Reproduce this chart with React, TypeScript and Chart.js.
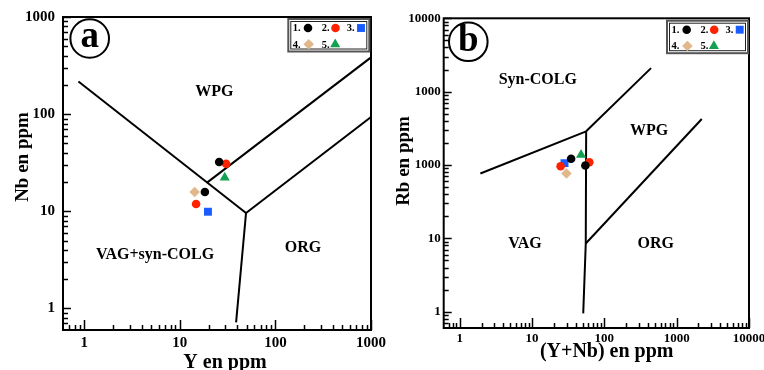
import React, { useEffect, useRef } from 'react';
import { Chart, registerables } from 'chart.js';
Chart.register(...registerables);

const FONT = "'Liberation Serif', 'Times New Roman', serif";

// Series (shared legend)
const seriesNames = ['1.', '2.', '3.', '4.', '5.'];
const seriesColors = ['#000000', '#ff2200', '#1a5cff', '#e0b88c', '#12a150'];
const seriesShapes = ['circle', 'circle', 'rect', 'rectRot', 'triangle'];
const seriesRadii = [4.3, 4.3, 5.6, 5.3, 5.8];

// Panel a : Y (ppm) vs Nb (ppm)
const aY1 = [25.8, 18.3];
const aNb1 = [32.2, 15.8];
const aY2 = [30.5, 14.8];
const aNb2 = [30.9, 11.9];
const aY3 = [19.7];
const aNb3 = [9.9];
const aY4 = [14.3];
const aNb4 = [15.8];
const aY5 = [29.5];
const aNb5 = [22.2];

const aBoundaryX = [[0.87, 49.3], [19.1, 1000], [49.3, 1000], [49.3, 38.8]];
const aBoundaryY = [[217, 9.6], [19.6, 384], [9.6, 93.5], [9.6, 0.72]];

const aXTicks = [1, 10, 100, 1000];
const aXTickLabels = ['1', '10', '100', '1000'];
const aYTicks = [1, 10, 100, 1000];
const aYTickLabels = ['1', '10', '100', '1000'];

const aFieldNames = ['WPG', 'VAG+syn-COLG', 'ORG'];
const aFieldX = [23, 5.5, 194];
const aFieldY = [168, 3.6, 4.23];

// Panel b : (Y+Nb) (ppm) vs Rb (ppm)
const bYNb1 = [34.7, 54.6];
const bRb1 = [121.6, 98.4];
const bYNb2 = [24.8, 61.9];
const bRb2 = [96.3, 109];
const bYNb3 = [28.1];
const bRb3 = [106];
const bYNb4 = [29.9];
const bRb4 = [76.5];
const bYNb5 = [47.6];
const bRb5 = [138];

const bBoundaryX = [[1.93, 56], [56, 442], [56, 55.3, 51], [55.3, 2223]];
const bBoundaryY = [[76.7, 288], [288, 2094], [288, 8.5, 0.95], [8.5, 424]];

const bXTicks = [1, 10, 100, 1000, 10000];
const bXTickLabels = ['1', '10', '100', '1000', '10000'];
const bYTicks = [1, 10, 100, 1000, 10000];
const bYTickLabels = ['1', '10', '1000', '1000', '10000'];

const bFieldNames = ['Syn-COLG', 'WPG', 'VAG', 'ORG'];
const bFieldX = [12, 415, 8, 513];
const bFieldY = [1452, 294, 8.5, 8.5];

type PanelCfg = {
  left: number; width: number;
  area: { l: number; r: number; t: number; b: number };
  xMin: number; xMax: number; yMin: number; yMax: number;
  xs: number[][]; ys: number[][];
  bx: number[][]; by: number[][];
  xTicks: number[]; xLabels: string[]; yTicks: number[]; yLabels: string[];
  tickSize: number; yPad: number; xPad: number;
  fields: string[]; fx: number[]; fy: number[];
  xTitle: string; xTitlePos: [number, number];
  yTitle: string; yTitlePos: [number, number];
  letter: string; letterC: [number, number]; letterBase: number;
  legend: [number, number];
};

function drawMarker(ctx: CanvasRenderingContext2D, shape: string, x: number, y: number, r: number, color: string) {
  ctx.save();
  ctx.fillStyle = color;
  ctx.beginPath();
  if (shape === 'circle') {
    ctx.arc(x, y, r, 0, Math.PI * 2);
  } else if (shape === 'rect') {
    const s = r * Math.SQRT1_2;
    ctx.rect(x - s, y - s, 2 * s, 2 * s);
  } else if (shape === 'rectRot') {
    ctx.moveTo(x, y - r); ctx.lineTo(x + r, y); ctx.lineTo(x, y + r); ctx.lineTo(x - r, y); ctx.closePath();
  } else {
    const h = r * 1.5;
    const w = r * Math.sqrt(3) / 2;
    ctx.moveTo(x, y - r); ctx.lineTo(x + w, y + h - r); ctx.lineTo(x - w, y + h - r); ctx.closePath();
  }
  ctx.fill();
  ctx.restore();
}

function makeDecor(cfg: PanelCfg) {
  return {
    id: 'decor' + cfg.letter,
    afterDraw(chart: any) {
      const ctx: CanvasRenderingContext2D = chart.ctx;
      const ca = chart.chartArea;
      const xs = chart.scales.x;
      const ys = chart.scales.y;
      ctx.save();
      ctx.strokeStyle = '#000';
      ctx.lineWidth = 2;
      ctx.strokeRect(ca.left, ca.top, ca.right - ca.left, ca.bottom - ca.top);
      // inward ticks
      ctx.lineWidth = 1.5;
      for (let d = -1; d <= 4; d++) {
        for (let m = 1; m <= 9; m++) {
          const v = m * Math.pow(10, d);
          if (v >= cfg.xMin && v <= cfg.xMax * 1.001) {
            const px = Math.round(xs.getPixelForValue(v)) + 0.5;
            const len = m === 1 ? 10 : 5;
            ctx.beginPath(); ctx.moveTo(px, ca.bottom); ctx.lineTo(px, ca.bottom - len); ctx.stroke();
          }
          if (v >= cfg.yMin && v <= cfg.yMax * 1.001) {
            const py = Math.round(ys.getPixelForValue(v)) + 0.5;
            const len = m === 1 ? 8 : 5;
            ctx.beginPath(); ctx.moveTo(ca.left, py); ctx.lineTo(ca.left + len, py); ctx.stroke();
          }
        }
      }
      // field labels
      ctx.fillStyle = '#000';
      ctx.font = `bold 16px ${FONT}`;
      ctx.textAlign = 'center';
      ctx.textBaseline = 'middle';
      cfg.fields.forEach((t, i) => {
        ctx.fillText(t, xs.getPixelForValue(cfg.fx[i]), ys.getPixelForValue(cfg.fy[i]));
      });
      // axis titles
      ctx.font = `bold 20px ${FONT}`;
      ctx.textBaseline = 'alphabetic';
      ctx.fillText(cfg.xTitle, cfg.xTitlePos[0], cfg.xTitlePos[1]);
      ctx.save();
      ctx.translate(cfg.yTitlePos[0], cfg.yTitlePos[1]);
      ctx.rotate(-Math.PI / 2);
      ctx.font = `bold 19px ${FONT}`;
      ctx.fillText(cfg.yTitle, 0, 0);
      ctx.restore();
      // panel letter
      ctx.lineWidth = 2;
      ctx.beginPath();
      ctx.arc(cfg.letterC[0], cfg.letterC[1], 19.3, 0, Math.PI * 2);
      ctx.stroke();
      ctx.font = `bold 37px ${FONT}`;
      ctx.fillText(cfg.letter, cfg.letterC[0], cfg.letterBase);
      // legend box
      const [lx, ly] = cfg.legend;
      const lw = 81, lh = 32.5;
      ctx.lineWidth = 2;
      ctx.strokeStyle = '#555';
      ctx.strokeRect(lx, ly, lw, lh);
      ctx.lineWidth = 1;
      ctx.strokeStyle = '#222';
      ctx.strokeRect(lx + 2.5, ly + 2.5, lw - 5, lh - 5);
      const textX = [4.4, 33.4, 58.4, 4.4, 33.4];
      const markX = [19.7, 47.2, 72.7, 20.4, 46.9];
      const rowOf = [0, 0, 0, 1, 1];
      ctx.font = `bold 10.5px ${FONT}`;
      ctx.textAlign = 'left';
      ctx.textBaseline = 'middle';
      seriesNames.forEach((n, i) => {
        const yy = ly + (rowOf[i] === 0 ? 9 : 25.3);
        ctx.fillStyle = '#000';
        ctx.fillText(n, lx + textX[i], yy + 0.5);
        drawMarker(ctx, seriesShapes[i], lx + markX[i], yy, seriesRadii[i], seriesColors[i]);
      });
      ctx.restore();
    },
  };
}

function Panel({ cfg }: { cfg: PanelCfg }) {
  const ref = useRef<HTMLCanvasElement>(null);
  useEffect(() => {
    const datasets: any[] = [];
    seriesNames.forEach((n, i) => {
      datasets.push({
        label: n,
        data: cfg.xs[i].map((x, j) => ({ x, y: cfg.ys[i][j] })),
        pointStyle: seriesShapes[i],
        pointRadius: seriesRadii[i],
        backgroundColor: seriesColors[i],
        borderColor: seriesColors[i],
        borderWidth: 0,
        showLine: false,
        order: 1,
      });
    });
    cfg.bx.forEach((line, k) => {
      datasets.push({
        label: 'b' + k,
        data: line.map((x, j) => ({ x, y: cfg.by[k][j] })),
        showLine: true,
        borderColor: '#000',
        borderWidth: 2,
        pointRadius: 0,
        fill: false,
        order: 2,
      });
    });
    const tickFont = { family: FONT, size: cfg.tickSize, weight: 'bold' as const };
    const chart = new Chart(ref.current!, {
      type: 'scatter',
      data: { datasets },
      options: {
        animation: false,
        responsive: false,
        devicePixelRatio: 1,
        layout: { padding: { left: 0, top: cfg.area.t, right: cfg.width - cfg.area.r, bottom: 0 } },
        plugins: { legend: { display: false }, tooltip: { enabled: false } },
        scales: {
          x: {
            type: 'logarithmic',
            min: cfg.xMin,
            max: cfg.xMax,
            afterBuildTicks: (s: any) => { s.ticks = cfg.xTicks.map((v) => ({ value: v })); },
            afterFit: (s: any) => { s.height = 370 - cfg.area.b; },
            ticks: {
              callback: (_v: any, i: number) => cfg.xLabels[i],
              font: tickFont, color: '#000', padding: cfg.xPad, autoSkip: false, maxRotation: 0,
            },
            grid: { display: false, drawTicks: false },
            border: { display: false },
          },
          y: {
            type: 'logarithmic',
            min: cfg.yMin,
            max: cfg.yMax,
            afterBuildTicks: (s: any) => { s.ticks = cfg.yTicks.map((v) => ({ value: v })); },
            afterFit: (s: any) => { s.width = cfg.area.l; },
            ticks: {
              callback: (_v: any, i: number) => cfg.yLabels[i],
              font: tickFont, color: '#000', padding: cfg.yPad, autoSkip: false,
            },
            grid: { display: false, drawTicks: false },
            border: { display: false },
          },
        },
      },
      plugins: [makeDecor(cfg)],
    });
    return () => chart.destroy();
  }, []);
  return (
    <canvas
      ref={ref}
      width={cfg.width}
      height={370}
      style={{ position: 'absolute', left: cfg.left, top: 0, width: cfg.width, height: 370 }}
    />
  );
}

const panelA: PanelCfg = {
  left: 0, width: 400,
  area: { l: 63, r: 371, t: 16, b: 330 },
  xMin: 0.624, xMax: 1000, yMin: 0.618, yMax: 1000,
  xs: [aY1, aY2, aY3, aY4, aY5], ys: [aNb1, aNb2, aNb3, aNb4, aNb5],
  bx: aBoundaryX, by: aBoundaryY,
  xTicks: aXTicks, xLabels: aXTickLabels, yTicks: aYTicks, yLabels: aYTickLabels,
  tickSize: 15, yPad: 8, xPad: 4,
  fields: aFieldNames, fx: aFieldX, fy: aFieldY,
  xTitle: 'Y en ppm', xTitlePos: [225, 368],
  yTitle: 'Nb en ppm', yTitlePos: [28, 157],
  letter: 'a', letterC: [89.7, 38.5], letterBase: 47,
  legend: [288.3, 19],
};

const panelB: PanelCfg = {
  left: 382, width: 400,
  area: { l: 61.7, r: 367, t: 18.3, b: 328 },
  xMin: 0.636, xMax: 10000, yMin: 0.62, yMax: 10000,
  xs: [bYNb1, bYNb2, bYNb3, bYNb4, bYNb5], ys: [bRb1, bRb2, bRb3, bRb4, bRb5],
  bx: bBoundaryX, by: bBoundaryY,
  xTicks: bXTicks, xLabels: bXTickLabels, yTicks: bYTicks, yLabels: bYTickLabels,
  tickSize: 13, yPad: 3, xPad: 3,
  fields: bFieldNames, fx: bFieldX, fy: bFieldY,
  xTitle: '(Y+Nb) en ppm', xTitlePos: [224.7, 357],
  yTitle: 'Rb en ppm', yTitlePos: [27, 161],
  letter: 'b', letterC: [86.3, 41.8], letterBase: 51,
  legend: [285, 20.7],
};

export default function App() {
  return (
    <div style={{ position: 'fixed', left: 0, top: 0, width: 764, height: 370, overflow: 'hidden', background: '#fff' }}>
      <Panel cfg={panelA} />
      <Panel cfg={panelB} />
    </div>
  );
}
